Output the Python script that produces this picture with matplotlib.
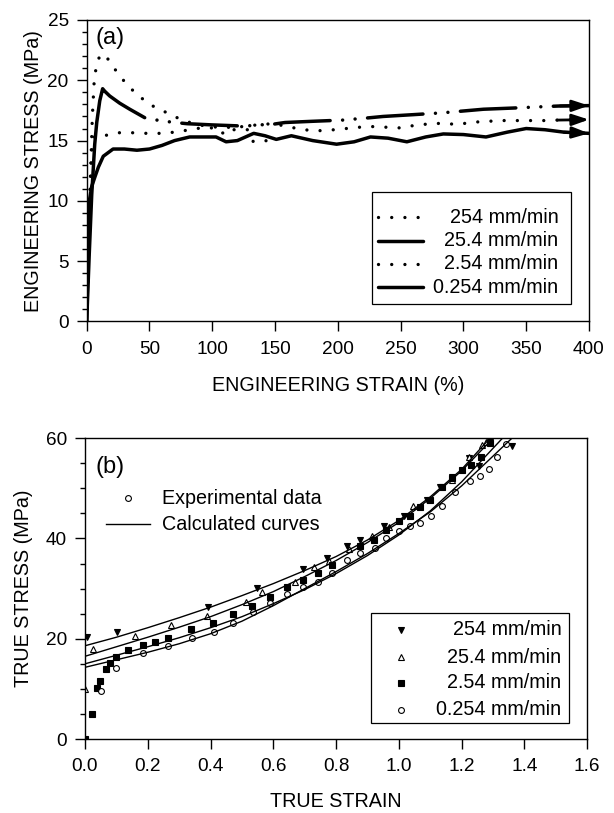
import numpy as np
import matplotlib
matplotlib.use('Agg')
import matplotlib.pyplot as plt
from matplotlib.patches import Rectangle
from matplotlib.ticker import MultipleLocator

plt.rcParams['font.family'] = ['Liberation Sans', 'DejaVu Sans']
plt.rcParams['lines.scale_dashes'] = False

# ---- (a) engineering stress-strain ----
rates_a = ['254 mm/min', '25.4 mm/min', '2.54 mm/min', '0.254 mm/min']

eng_x_254 = [0, 1.5, 3, 4.5, 6, 8, 10, 12.7, 16, 22.6, 30, 40, 52, 64, 74, 85, 95, 105, 118, 128,
             139, 150, 159, 170, 180, 192, 204, 216, 228, 240, 250, 260, 272, 284, 295, 307, 320,
             330, 345, 365, 375, 400]
eng_y_254 = [0, 6, 12, 17, 20, 21.4, 21.9, 22.2, 21.9, 20.9, 19.9, 18.8, 17.9, 17.3, 16.8, 16.4,
             16.2, 16.1, 16.1, 16.2, 16.35, 16.4, 16.16, 15.97, 15.8, 15.85, 15.97, 16.1, 16.16,
             16.1, 16.05, 16.24, 16.38, 16.44, 16.33, 16.52, 16.6, 16.66, 16.66, 16.66, 16.7, 16.74]

eng_x_25 = [0, 2, 4, 6.4, 8, 10.4, 12.7, 14.3, 18.3, 26.3, 34.3, 46.2,
            58.4, 70.3, 80, 100, 126, 137, 148, 158, 180, 204, 215, 226, 236, 260, 283, 294,
            305, 316, 340, 361, 372, 377, 400]
eng_y_25 = [0, 5.5, 10.5, 14.7, 16.5, 18.3, 19.3, 19.1, 18.7, 18.1, 17.6, 16.9,
            16.65, 16.5, 16.4, 16.3, 16.2, 16.3, 16.35, 16.5, 16.6, 16.7, 16.8, 16.9, 17.0, 17.15,
            17.3, 17.4, 17.5, 17.6, 17.7, 17.8, 17.85, 17.87, 17.9]
solid_pts_25 = 12   # first stretch of the 25.4 curve is drawn unbroken

eng_x_2 = [0, 1, 2, 3, 4, 5, 6.6, 10, 13.8, 24.7, 36.3, 47.8, 59.2, 70.3, 82.3, 93.7, 104.8,
           109.6, 116.7, 128.2, 132.7, 144.1]
eng_y_2 = [0, 4, 8, 11.5, 14, 15, 15.4, 15.5, 15.4, 15.65, 15.65, 15.6, 15.6, 15.7, 15.9, 16.1,
           16.0, 15.5, 15.9, 15.9, 14.9, 15.0]

eng_x_02 = [0, 1, 2.1, 4, 6.6, 9.3, 13.2, 21, 30, 40, 50, 60, 70, 82, 95, 103, 111, 120, 133,
            142, 151, 163, 180, 199, 213, 226, 240, 255, 270, 284, 300, 318, 335, 350, 365, 380,
            400]
eng_y_02 = [0, 5, 10, 11.2, 12.0, 12.8, 13.7, 14.3, 14.3, 14.2, 14.3, 14.6, 15.0, 15.3, 15.3,
            15.3, 14.9, 15.0, 15.6, 15.4, 15.1, 15.4, 15.0, 14.7, 14.9, 15.3, 15.2, 14.9, 15.3,
            15.55, 15.5, 15.3, 15.7, 16.0, 15.9, 15.7, 15.6]

# ---- (b) true stress-strain ----
rates_b = ['254 mm/min', '25.4 mm/min', '2.54 mm/min', '0.254 mm/min']

exp_x_254 = [0.005, 0.103, 0.393, 0.548, 0.696, 0.771, 0.835, 0.877, 0.952, 1.015, 1.09, 1.132,
             1.17, 1.223, 1.255, 1.29, 1.359]
exp_y_254 = [20.4, 21.3, 26.4, 30.1, 33.9, 36.1, 38.5, 39.7, 42.5, 44.5, 47.7, 50.2, 52.2, 56.0,
             54.4, 59.3, 58.5]

exp_x_25 = [0.0, 0.024, 0.159, 0.273, 0.388, 0.512, 0.563, 0.67, 0.728, 0.776, 0.84, 0.914,
            0.967, 1.045, 1.17, 1.223, 1.265, 1.276]
exp_y_25 = [10.0, 17.9, 20.6, 22.8, 24.6, 27.3, 29.4, 31.4, 34.4, 35.6, 37.9, 40.4, 42.2, 46.4,
            51.7, 56.2, 58.7, 59.3]

exp_x_2 = [0.0, 0.021, 0.037, 0.048, 0.067, 0.08, 0.099, 0.138, 0.184, 0.223, 0.263, 0.337,
           0.407, 0.473, 0.532, 0.59, 0.643, 0.694, 0.741, 0.787, 0.877, 0.92, 0.96, 1.0, 1.037,
           1.068, 1.1, 1.138, 1.17, 1.2, 1.23, 1.26, 1.29]
exp_y_2 = [0.1, 5.0, 10.1, 11.6, 14.0, 15.1, 16.3, 17.8, 18.7, 19.4, 20.2, 21.9, 23.2, 24.9,
           26.6, 28.4, 30.3, 31.7, 33.2, 34.7, 38.4, 39.7, 41.6, 43.4, 44.5, 46.2, 47.7, 50.2,
           52.0, 53.7, 54.7, 56.2, 59.1]

exp_x_02 = [0.05, 0.10, 0.186, 0.263, 0.34, 0.41, 0.473, 0.534, 0.59, 0.643, 0.694, 0.741,
            0.787, 0.835, 0.877, 0.923, 0.96, 1.0, 1.037, 1.068, 1.103, 1.138, 1.18, 1.228,
            1.257, 1.286, 1.313, 1.34]
exp_y_02 = [9.6, 14.2, 17.2, 18.6, 20.1, 21.4, 23.1, 25.4, 27.2, 28.9, 30.4, 31.4, 33.2, 35.7,
            37.1, 38.2, 40.1, 41.5, 42.5, 43.0, 44.4, 46.5, 49.2, 51.5, 52.4, 53.9, 56.2, 58.9]

calc_x = [0, 0.1, 0.2, 0.3, 0.4, 0.5, 0.6, 0.7, 0.8, 0.9, 1.0, 1.1, 1.2]
calc_254 = [18.6, 20.3, 22.2, 24.2, 26.3, 28.6, 31.0, 33.6, 36.4, 39.7, 43.6, 48.3, 53.8]
calc_25 = [16.5, 18.4, 20.3, 22.3, 24.4, 26.8, 29.4, 32.4, 35.6, 39.2, 43.2, 48.0, 53.5]
calc_2 = [15.0, 16.7, 18.4, 20.2, 22.2, 24.4, 27.0, 29.8, 33.0, 36.6, 40.7, 45.5, 51.3]
calc_02 = [14.3, 15.8, 17.3, 19.0, 21.0, 23.5, 26.6, 30.0, 33.4, 37.0, 41.0, 45.3, 50.5]
calc_end_x = [1.29, 1.30, 1.33, 1.36]      # strain where each curve leaves the top of the plot
calc_end_y = [60, 60, 60, 60]

fig = plt.figure(figsize=(6.14, 8.13), dpi=100)
ax1 = fig.add_axes([0.1412, 0.6046, 0.818, 0.3708])
ax2 = fig.add_axes([0.1384, 0.091, 0.818, 0.370])

lab_fs = 14.2
tick_fs = 13.7

dotted = dict(color='black', lw=2.4, linestyle=(0, (0.01, 9.5)), dash_capstyle='round')
thick = dict(color='black', lw=2.5, solid_capstyle='round')

ax1.plot(eng_x_254, eng_y_254, **dotted)
ax1.plot(eng_x_25[:solid_pts_25], eng_y_25[:solid_pts_25], **thick)
ax1.plot(eng_x_25[solid_pts_25 - 1:], eng_y_25[solid_pts_25 - 1:], color='black', lw=2.5,
         linestyle=(40, (40, 9, 0.01, 9, 0.01, 9)), dash_capstyle='round')
ax1.plot(eng_x_2, eng_y_2, **dotted)
ax1.plot(eng_x_02, eng_y_02, **thick)

# arrow heads on the curves that run off the end of the test
for xs, ys in [(eng_x_25, eng_y_25), (eng_x_254, eng_y_254), (eng_x_02, eng_y_02)]:
    ax1.annotate('', xy=(xs[-1], ys[-1]), xytext=(xs[-2], ys[-2]),
                 arrowprops=dict(arrowstyle='-|>,head_length=0.5,head_width=0.17',
                                 mutation_scale=20, color='black', lw=2.0,
                                 shrinkA=0, shrinkB=0))

ax1.set_xlim(0, 400)
ax1.set_ylim(0, 25)
ax1.xaxis.set_major_locator(MultipleLocator(50))
ax1.yaxis.set_major_locator(MultipleLocator(5))
ax1.yaxis.set_minor_locator(MultipleLocator(1))
ax1.set_xlabel('ENGINEERING STRAIN (%)', fontsize=lab_fs, labelpad=13)
ax1.set_ylabel('ENGINEERING STRESS (MPa)', fontsize=lab_fs, labelpad=3)
ax1.text(0.017, 0.94, '(a)', transform=ax1.transAxes, fontsize=17, va='center')

# legend box for (a)
ax1.add_patch(Rectangle((0.569, 0.058), 0.3946, 0.3705, transform=ax1.transAxes,
                        fill=False, edgecolor='black', lw=0.9, zorder=5))
leg_a_y = [0.3456, 0.268, 0.1907, 0.1134]
leg_a_style = [dotted, thick, dotted, thick]
for lbl, yy, st in zip(rates_a, leg_a_y, leg_a_style):
    ax1.plot([0.5805, 0.6701], [yy, yy], transform=ax1.transAxes, clip_on=False, **st)
    ax1.text(0.9389, yy, lbl, transform=ax1.transAxes, ha='right', va='center', fontsize=lab_fs)

# ---- (b) ----
mk = dict(linestyle='none', color='black', markersize=4.2, markeredgewidth=0.8)
ax2.plot(exp_x_254, exp_y_254, marker='v', **mk)
ax2.plot(exp_x_25, exp_y_25, marker='^', markerfacecolor='white', **mk)
ax2.plot(exp_x_2, exp_y_2, marker='s', **mk)
ax2.plot(exp_x_02, exp_y_02, marker='o', markerfacecolor='white', **mk)

for ys, ex, ey in zip([calc_254, calc_25, calc_2, calc_02], calc_end_x, calc_end_y):
    ax2.plot(calc_x + [ex], ys + [ey], color='black', lw=1.0)

ax2.set_xlim(0, 1.6)
ax2.set_ylim(0, 60)
ax2.xaxis.set_major_locator(MultipleLocator(0.2))
ax2.yaxis.set_major_locator(MultipleLocator(20))
ax2.yaxis.set_minor_locator(MultipleLocator(5))
ax2.xaxis.set_major_formatter(matplotlib.ticker.FormatStrFormatter('%.1f'))
ax2.set_xlabel('TRUE STRAIN', fontsize=lab_fs, labelpad=12)
ax2.set_ylabel('TRUE STRESS (MPa)', fontsize=lab_fs, labelpad=9)
ax2.text(0.02, 0.905, '(b)', transform=ax2.transAxes, fontsize=17, va='center')

# key for experimental points vs calculated lines
ax2.plot([0.085], [0.80], transform=ax2.transAxes, marker='o', markerfacecolor='white', **mk)
ax2.text(0.1527, 0.80, 'Experimental data', transform=ax2.transAxes, va='center', fontsize=lab_fs)
ax2.plot([0.042, 0.129], [0.714, 0.714], transform=ax2.transAxes, color='black', lw=1.0)
ax2.text(0.1527, 0.714, 'Calculated curves', transform=ax2.transAxes, va='center', fontsize=lab_fs)

ax2.add_patch(Rectangle((0.569, 0.052), 0.3946, 0.368, transform=ax2.transAxes,
                        fill=False, edgecolor='black', lw=0.9, zorder=5))
leg_b_y = [0.3625, 0.2717, 0.187, 0.0965]
leg_b_mk = [('v', 'black'), ('^', 'white'), ('s', 'black'), ('o', 'white')]
for lbl, yy, (m, fc) in zip(rates_b, leg_b_y, leg_b_mk):
    ax2.plot([0.63], [yy], transform=ax2.transAxes, marker=m, markerfacecolor=fc, **mk)
    ax2.text(0.949, yy, lbl, transform=ax2.transAxes, ha='right', va='center', fontsize=lab_fs)

for ax in (ax1, ax2):
    ax.tick_params(which='major', direction='out', length=7, width=1, labelsize=tick_fs)
    ax.tick_params(axis='x', which='major', pad=7)
    ax.tick_params(axis='y', which='major', pad=6)
    ax.tick_params(which='minor', direction='out', length=3.5, width=1)
    for s in ax.spines.values():
        s.set_linewidth(1.0)

fig.savefig('out.png', dpi=100)
